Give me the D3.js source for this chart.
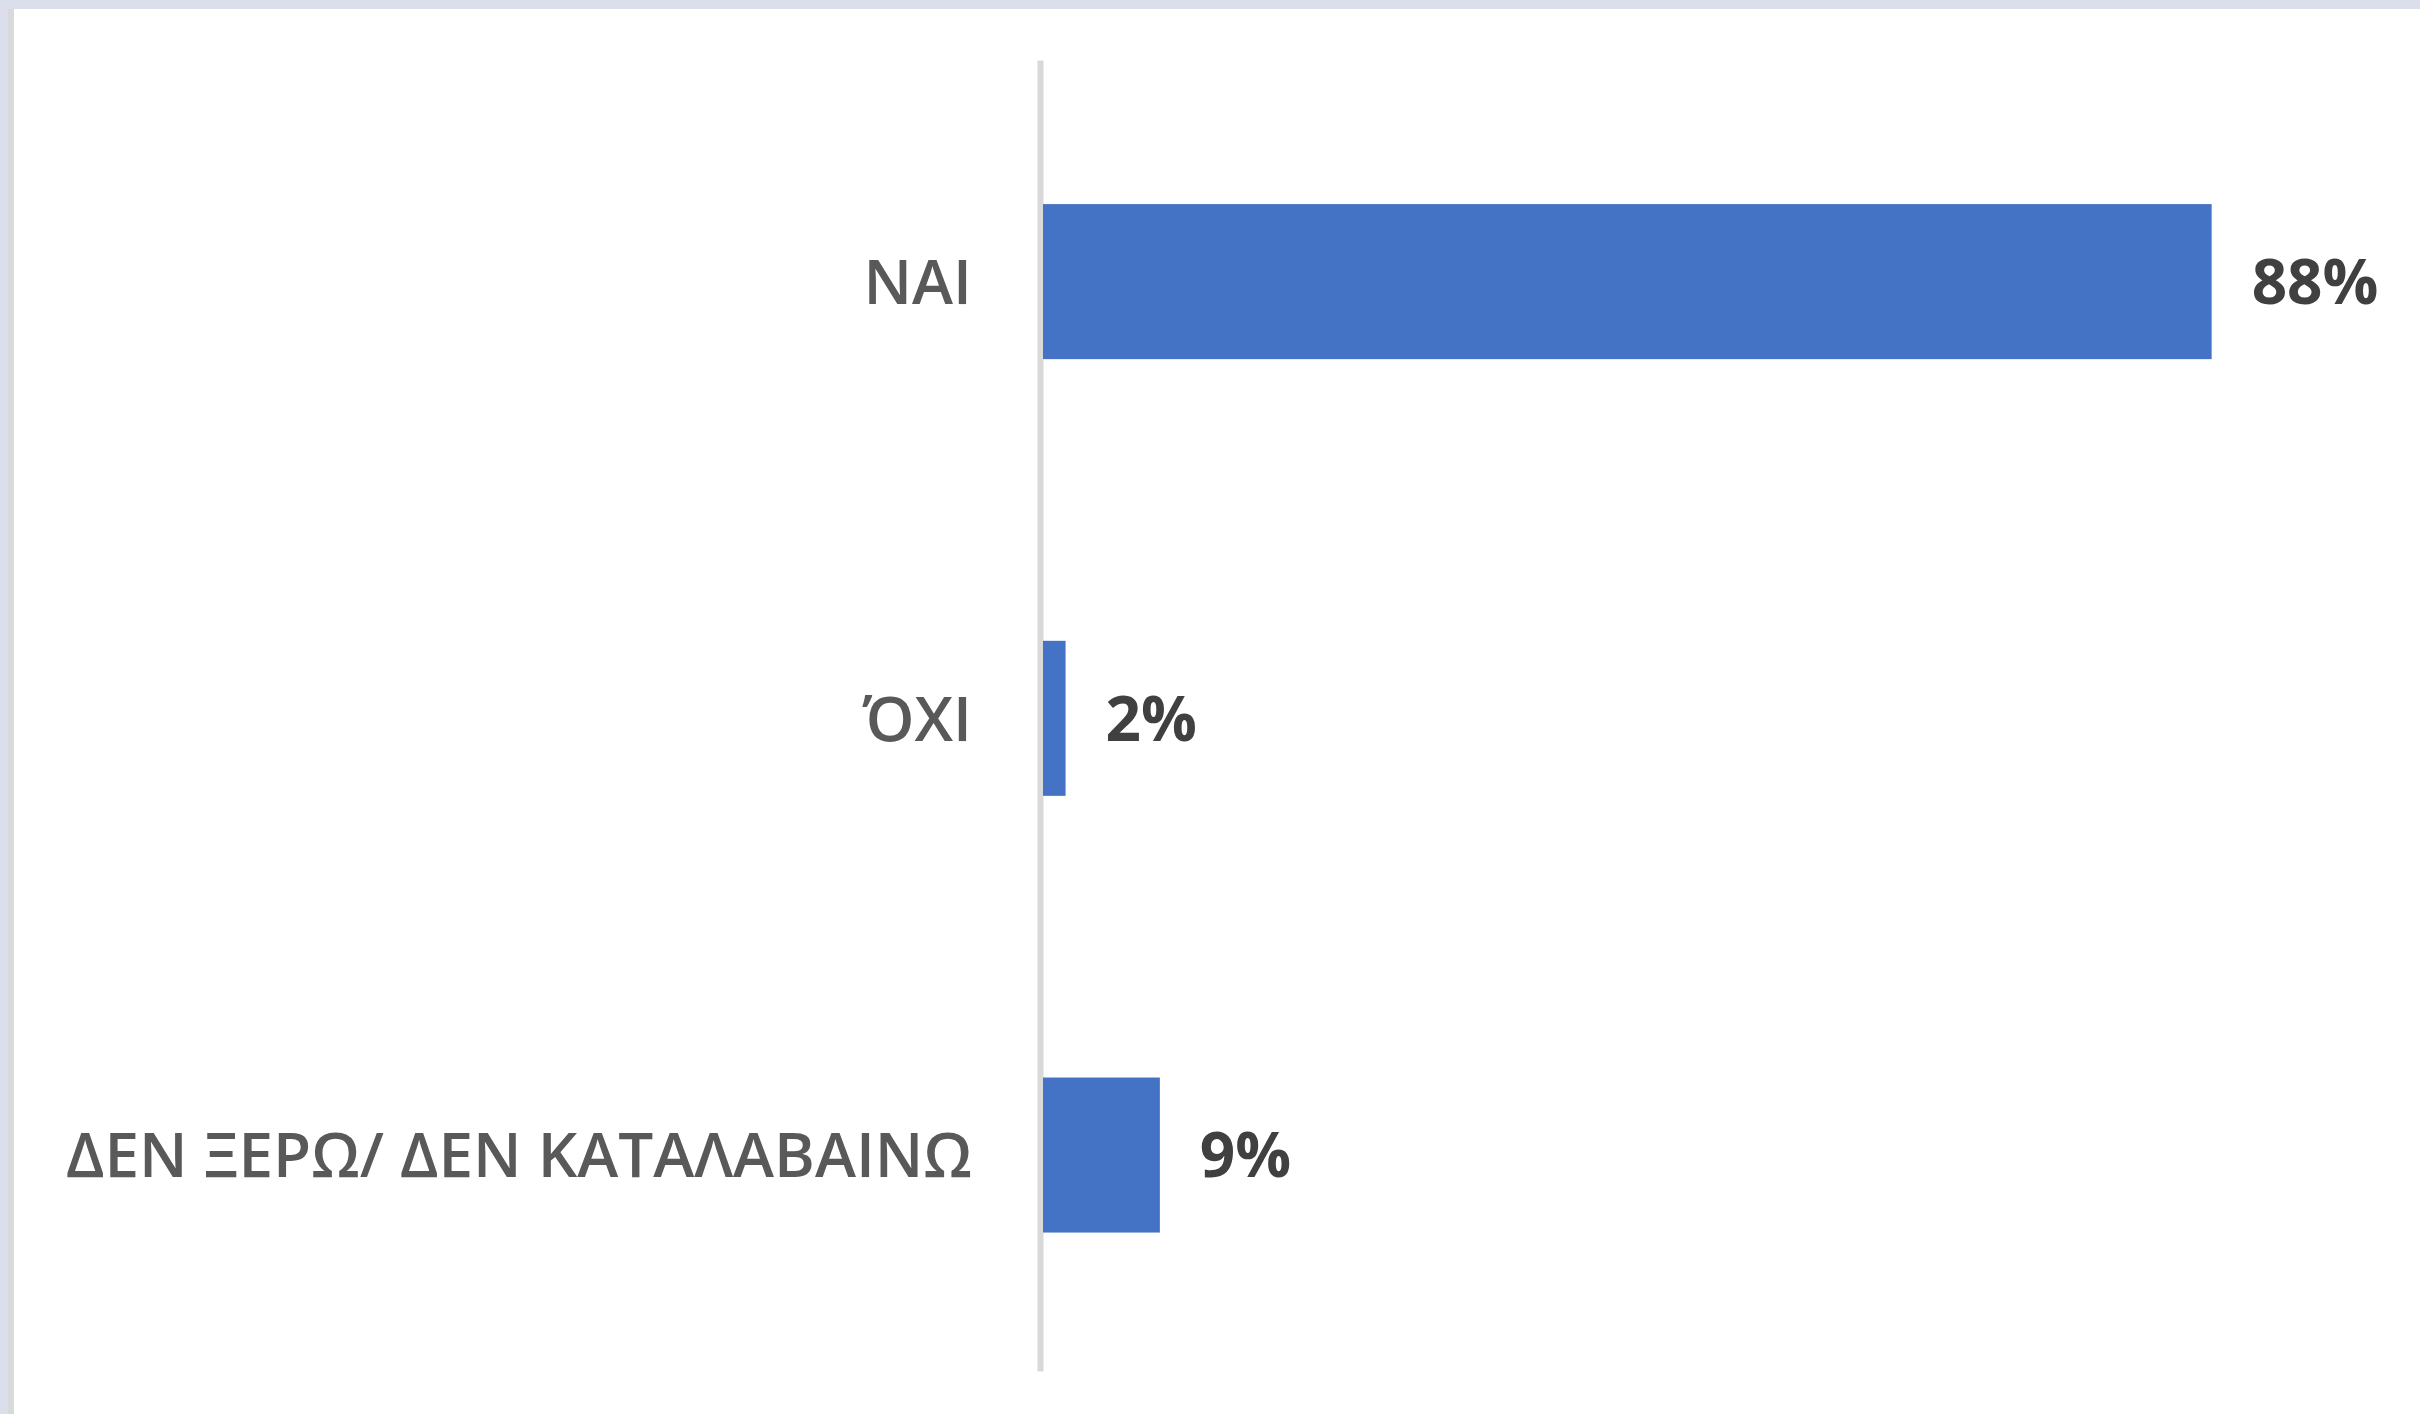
<!DOCTYPE html>
<html>
<head>
<meta charset="utf-8">
<script src="https://cdn.jsdelivr.net/npm/d3@7"></script>
<style>
  html, body { margin: 0; padding: 0; background: #ffffff; }
  svg { display: block; }
</style>
</head>
<body>
<div id="chart"></div>
<script>
// answers and their share (in %)
const categories = ["ΝΑΙ", "ΌΧΙ", "ΔΕΝ ΞΕΡΩ/ ΔΕΝ ΚΑΤΑΛΑΒΑΙΝΩ"];
const values = [88, 1.7, 8.8];
const valueLabels = ["88%", "2%", "9%"];

const width = 2420, height = 1414;

const svg = d3.select("#chart").append("svg")
    .attr("width", width)
    .attr("height", height);

// frame: bluish strip top/left, grey edge, then white chart area
svg.append("rect").attr("width", width).attr("height", height).attr("fill", "#dbdfeb");
svg.append("rect").attr("x", 8).attr("y", 9).attr("width", width - 8).attr("height", height - 9).attr("fill", "#d9d9d9");
svg.append("rect").attr("x", 14).attr("y", 9).attr("width", width - 14).attr("height", height - 9).attr("fill", "#ffffff");

const x = d3.scaleLinear()
    .domain([0, 100])
    .range([1043, 2371]);

const y = d3.scaleBand()
    .domain(categories)
    .range([60, 1371])
    .paddingInner(0.645)
    .paddingOuter(0.3235)
    .align(0.51);

const axis = svg.append("g")
    .attr("transform", `translate(${x(0) - 3},0)`)
    .call(d3.axisLeft(y).tickSize(0).tickSizeOuter(0).tickPadding(68));

axis.select(".domain")
    .attr("stroke", "#d9d9d9")
    .attr("stroke-width", 6);

axis.selectAll(".tick text")
    .attr("fill", "#595959")
    .attr("font-family", "'Open Sans', sans-serif")
    .attr("font-weight", 600)
    .attr("font-size", "62px")
    .attr("dy", "0.36em");

const data = categories.map((c, i) => ({ name: c, value: values[i], label: valueLabels[i] }));

svg.selectAll("rect.bar")
    .data(data)
    .enter().append("rect")
    .attr("class", "bar")
    .attr("x", x(0))
    .attr("y", d => y(d.name))
    .attr("width", d => x(d.value) - x(0))
    .attr("height", y.bandwidth())
    .attr("fill", "#4472c4");

svg.selectAll("text.val")
    .data(data)
    .enter().append("text")
    .attr("class", "val")
    .attr("x", d => x(d.value) + 40)
    .attr("y", d => y(d.name) + y.bandwidth() / 2)
    .attr("dy", "0.36em")
    .attr("fill", "#404040")
    .attr("font-family", "'Open Sans', sans-serif")
    .attr("font-weight", "bold")
    .attr("font-size", "62px")
    .text(d => d.label);
</script>
</body>
</html>
